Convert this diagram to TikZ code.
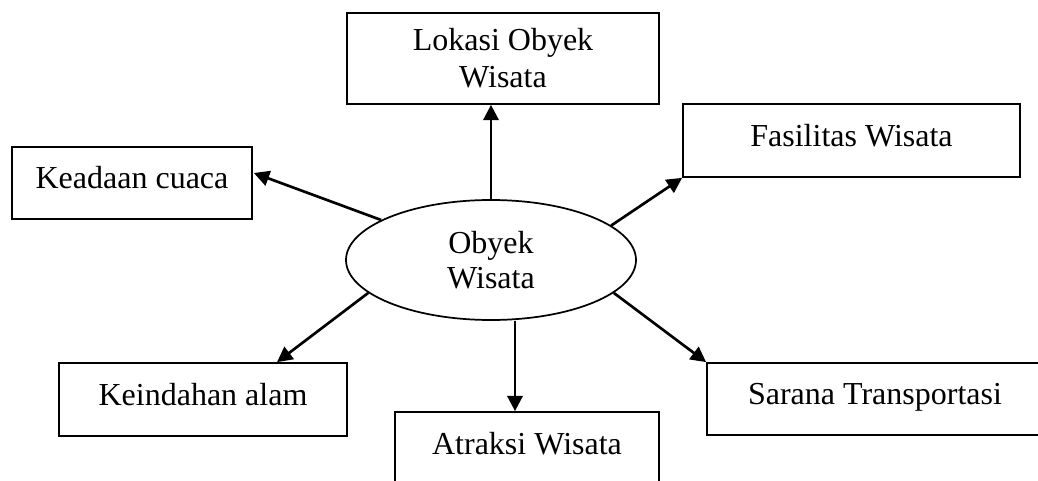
\documentclass[tikz,border=0pt]{standalone}
\usepackage{fontspec}
\setmainfont{Liberation Serif}
\usetikzlibrary{arrows.meta,calc,shapes.geometric}
\begin{document}
\begin{tikzpicture}[x=0.75pt,y=-0.75pt,
  frame/.style={draw,line width=1.3pt,inner sep=0pt,align=center,
    font=\fontsize{24pt}{27.75pt}\selectfont},
  onebox/.style={frame,text height=17pt,text depth=8.5pt},
  oval/.style={ellipse,draw,line width=1.3pt,inner sep=0pt,align=center,
    minimum width=217.5pt,minimum height=90pt,
    font=\fontsize{24pt}{26.25pt}\selectfont},
  arr/.style={line width=2pt,-{Triangle[length=11.5pt,width=11.5pt]}}]
\useasboundingbox (0,0) rectangle (1038,481);
\clip (0,0) rectangle (1038,481);

\node[oval] (ell) at (491,260) {Obyek\\Wisata};

\node[frame,minimum width=234pt,minimum height=68.25pt] (lok) at (503,58.5) {Lokasi Obyek\\Wisata};
\node[onebox,minimum width=252.75pt,minimum height=54.75pt] (fas) at (851.5,140.5) {Fasilitas Wisata};
\node[onebox,minimum width=180pt,minimum height=54pt] (kea) at (132,183) {Keadaan cuaca};
\node[onebox,minimum width=216pt,minimum height=54.75pt] (kei) at (203,399.5) {Keindahan alam};
\node[onebox,minimum width=198pt,minimum height=54.75pt] (atr) at (527,448.5) {Atraksi Wisata};
\node[onebox,minimum width=252pt,minimum height=54pt] (sar) at (875,399) {Sarana Transportasi};

\coordinate (keaIn) at ($(kea.east)+(1,-10)$);
\coordinate (keiIn) at ($(kei.north)+(74,0)$);
\coordinate (atrIn) at ($(atr.north)+(-12,0)$);

\draw[arr] (ell.north) -- (ell.north |- lok.south);
\draw[arr] (ell.16) -- (fas.south west);
\draw[arr] (ell.160) -- (keaIn);
\draw[arr] (ell.195) -- (keiIn);
\draw[arr] (atrIn |- ell.south) -- (atrIn);
\draw[arr] (ell.345) -- (sar.north west);
\end{tikzpicture}
\end{document}
